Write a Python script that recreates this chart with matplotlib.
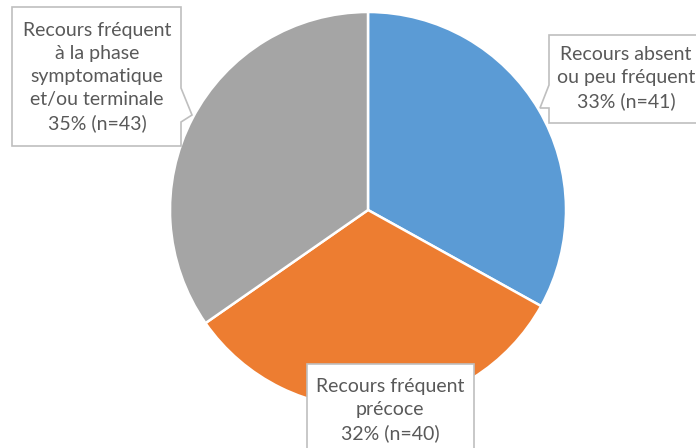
import matplotlib
matplotlib.use("Agg")
import matplotlib.pyplot as plt
from matplotlib.patches import Polygon

# data
categories = ["Recours absent\nou peu fréquent",
              "Recours fréquent\nprécoce",
              "Recours fréquent\nà la phase\nsymptomatique\net/ou terminale"]
counts = [41, 40, 43]
colors = ["#5B9BD5", "#ED7D31", "#A5A5A5"]

W, H = 696, 448
TXT = "#595959"
EDGE = "#BFBFBF"


def fy(y):
    # pixel row (top=0) -> data y
    return H - y


fig = plt.figure(figsize=(W / 100, H / 100), dpi=100)
ax = fig.add_axes([0, 0, 1, 1])
ax.pie(counts, colors=colors, startangle=90, counterclock=False,
       center=(368, fy(210)), radius=198,
       wedgeprops=dict(edgecolor="white", linewidth=1.8))
ax.set_xlim(0, W)
ax.set_ylim(0, H)
ax.set_aspect("equal")
ax.axis("off")

total = sum(counts)
labels = [f"{c}\n{round(100 * n / total)}% (n={n})" for c, n in zip(categories, counts)]

# callout boxes (pixel coords)
boxes = [
    [(549, 35), (705, 35), (705, 123), (549, 123), (549, 108), (540, 108), (549, 85)],
    [(307, 364), (474, 364), (474, 460), (307, 460)],
    [(12, 7), (181, 7), (181, 88), (192, 115), (181, 122), (181, 146), (12, 146)],
]
text_pos = [(626, 78), (390, 410), (97, 77)]

for pts, (tx, ty), lab in zip(boxes, text_pos, labels):
    ax.add_patch(Polygon([(x, fy(y)) for x, y in pts], closed=True,
                         facecolor="white", edgecolor=EDGE, linewidth=1.2,
                         joinstyle="miter", clip_on=False, zorder=3))
    ax.text(tx, fy(ty), lab, ha="center", va="center", color=TXT,
            fontsize=14, family="Lato", linespacing=1.42, zorder=4)

fig.savefig("out.png", dpi=100)
